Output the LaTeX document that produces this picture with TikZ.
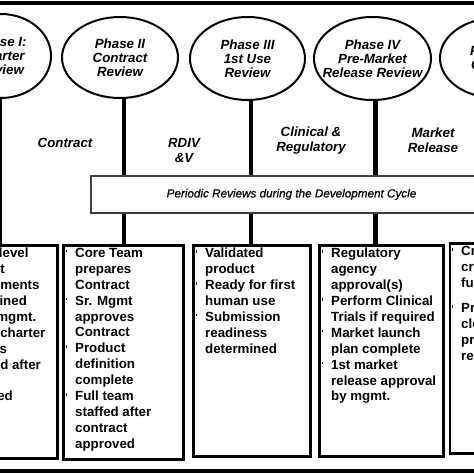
\documentclass[tikz,border=0pt]{standalone}
\usepackage{fontspec}
\setmainfont{Liberation Sans}
\newfontfamily\bandfont{Liberation Sans}[FakeBold=0.6]
\usetikzlibrary{shapes.geometric, positioning, calc}

\newcommand{\bul}{\llap{\rule[5pt]{1.4pt}{2.6pt}\hspace{8.3pt}}}

\begin{document}
\begin{tikzpicture}
		[   x=1pt, y=-1pt,
			phase/.style={draw=black,fill=white,ellipse,line width=2pt,inner sep=0pt},
			ptext/.style={align=center,inner sep=0pt,font=\fontsize{13.3}{13.8}\selectfont\bfseries\itshape},
			stage/.style={align=center,inner sep=0pt,font=\fontsize{13.3}{15}\selectfont\bfseries\itshape},
			card/.style={draw=black,line width=2.6pt,anchor=north west,inner sep=0pt},
			ctext/.style={anchor=north west,align=left,inner sep=0pt,font=\fontsize{13.3}{15.9}\selectfont\bfseries},
		]
		\tikzset{stem/.style={draw,line width=4.5pt}}
		\useasboundingbox (0,0) rectangle (474,474);
		\fill[white] (0,0) rectangle (474,474);
		\clip (0,0) rectangle (474,474);
		
		% outer frame
		\draw[line width=4pt] (-20,3) rectangle (494,470.5);
		
		\node[phase,minimum width=100pt,minimum height=84pt,label={[ptext]center:{Phase I:\\Charter\\Review}}] (p-1) at (1,56) {};
		\node[phase,minimum width=116pt,minimum height=81pt,label={[ptext]center:{Phase II\\Contract\\Review}}] (p-2) at (120,57.5) {};
		\node[phase,minimum width=115pt,minimum height=83pt,label={[ptext]center:{Phase III\\1st Use\\Review}}] (p-3) at (247.5,58.5) {};
		\node[phase,minimum width=117pt,minimum height=83pt,label={[ptext]center:{Phase IV\\Pre-Market\\Release Review}}] (p-4) at (372.5,58.5) {};
		\node[phase,minimum width=112pt,minimum height=80pt,label={[ptext]center:{Phase V\\Closure}}] (p-5) at (496,58) {};
		
		\node[stage] (g-1) at (65,143) {Contract};
		\node[stage] (g-2) at (184,150.5) {RDIV\\\&V};
		\node[stage] (g-3) at (311,140.5) {Clinical \&\\Regulatory};
		\node[stage] (g-4) at (433,140.5) {Market\\Release};
		
		\node[card,minimum width=114pt,minimum height=213pt] (b-1) at (-58,244) {};
		\node[card,minimum width=120pt,minimum height=214pt] (b-2) at (62,244) {};
		\node[card,minimum width=117pt,minimum height=211pt] (b-3) at (192,244) {};
		\node[card,minimum width=124pt,minimum height=211pt] (b-4) at (318,244) {};
		\node[card,minimum width=120pt,minimum height=210pt] (b-5) at (448.5,242) {};
		
		\node[ctext] (t-1) at ([shift={(13,4)}]b-1.north west)
			{\bul Project\hspace{-5pt} level\\product\\requirements\\determined\\by Sr. mgmt.\\\bul Create charter\\budgets\\finalized after\\review\\accepted};
		\node[ctext] (t-2) at ([shift={(13,4)}]b-2.north west)
			{\bul Core Team\\prepares\\Contract\\\bul Sr. Mgmt\\approves\\Contract\\\bul Product\\definition\\complete\\\bul Full team\\staffed after\\contract\\approved};
		\node[ctext] (t-3) at ([shift={(13,4)}]b-3.north west)
			{\bul Validated\\product\\\bul Ready for first\\human use\\\bul Submission\\readiness\\determined};
		\node[ctext] (t-4) at ([shift={(13,4)}]b-4.north west)
			{\bul Regulatory\\agency\\approval(s)\\\bul Perform Clinical\\Trials if required\\\bul Market launch\\plan complete\\\bul 1st market\\release approval\\by mgmt.};
		\node[ctext] (t-5) at ([shift={(12.5,4)}]b-5.north west)
			{\bul Critical\\criteria\\fulfilled\\[9pt]\bul Project\\closure\\process\\reviewed};
		
		\foreach \i/\x in {1/-0.5,2/124,3/251,4/375.5}
		{
			\coordinate (s-\i) at (\x,0);
			\path[stem] (p-\i.south -| s-\i) -- (b-\i.north -| s-\i);
		}
		
		\node[draw=black!75,line width=1.8pt,fill=white,minimum width=401pt,minimum height=36.7pt,
			font=\fontsize{11.7}{14}\bandfont\itshape] (band) at (291.5,194.4) {Periodic Reviews during the Development Cycle};
		
\end{tikzpicture}
\end{document}
